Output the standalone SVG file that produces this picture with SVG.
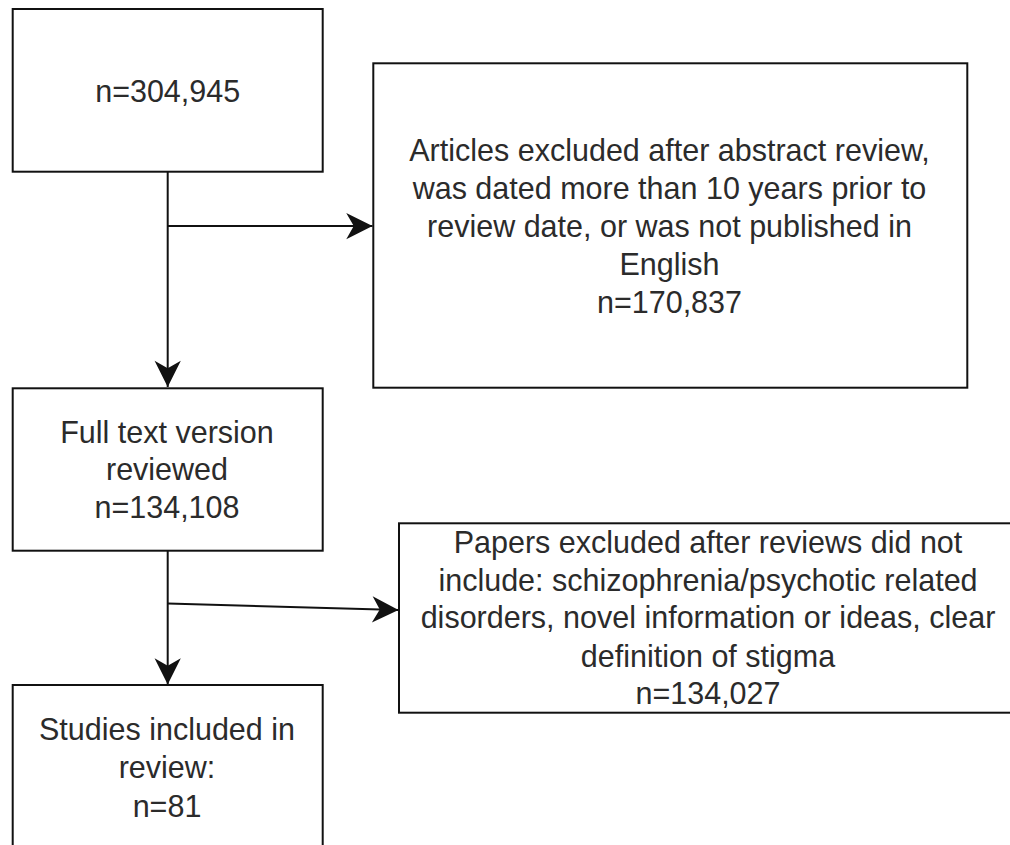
<svg xmlns="http://www.w3.org/2000/svg" width="1010" height="845" viewBox="0 0 1010 845">
<style>
.box{fill:#fff;stroke:#111;stroke-width:2}
.t{font-family:"Liberation Sans",Arial,sans-serif;font-size:30.5px;fill:#2b2b2b;text-anchor:middle}
.c{fill:none;stroke:#111;stroke-width:2}
</style>
<defs>
<marker id="arr" markerUnits="userSpaceOnUse" markerWidth="30" markerHeight="30" viewBox="-22 -12 24 24" refX="0" refY="0" orient="auto">
<path d="M0,0 L-21,-10.5 L-15,0 L-21,10.5 Z" fill="#111"/>
</marker>
</defs>
<rect width="1010" height="845" fill="#fff"/>
<g id="connectors">
<path class="c" d="M167.7,172 L167.7,387" marker-end="url(#arr)"/>
<path class="c" d="M167.7,226 L372.5,226" marker-end="url(#arr)"/>
<path class="c" d="M167.7,551 L167.7,684.5" marker-end="url(#arr)"/>
<path class="c" d="M167.7,603.5 L398.5,610" marker-end="url(#arr)"/>
</g>
<g id="n1">
<rect class="box" x="12.7" y="9" width="310" height="162.7"/>
<text class="t" x="167.7" y="101.7">n=304,945</text>
</g>
<g id="n2">
<rect class="box" x="373.3" y="63.3" width="594" height="324.4"/>
<text class="t" x="669.5" y="161">Articles excluded after abstract review,</text>
<text class="t" x="669.5" y="199">was dated more than 10 years prior to</text>
<text class="t" x="669.5" y="237">review date, or was not published in</text>
<text class="t" x="669.5" y="275">English</text>
<text class="t" x="669.5" y="313">n=170,837</text>
</g>
<g id="n3">
<rect class="box" x="12.7" y="388.3" width="310" height="162.4"/>
<text class="t" x="167" y="442.7">Full text version</text>
<text class="t" x="167" y="480.3">reviewed</text>
<text class="t" x="167" y="518.3">n=134,108</text>
</g>
<g id="n4">
<rect class="box" x="399" y="523.3" width="620" height="189.4"/>
<text class="t" x="708" y="553.3">Papers excluded after reviews did not</text>
<text class="t" x="708" y="590.8">include: schizophrenia/psychotic related</text>
<text class="t" x="708" y="628.3">disorders, novel information or ideas, clear</text>
<text class="t" x="708" y="666.5">definition of stigma</text>
<text class="t" x="708" y="704">n=134,027</text>
</g>
<g id="n5">
<rect class="box" x="12.7" y="685" width="310" height="175"/>
<text class="t" x="167" y="740">Studies included in</text>
<text class="t" x="167" y="778.3">review:</text>
<text class="t" x="167" y="816.7">n=81</text>
</g>
</svg>
